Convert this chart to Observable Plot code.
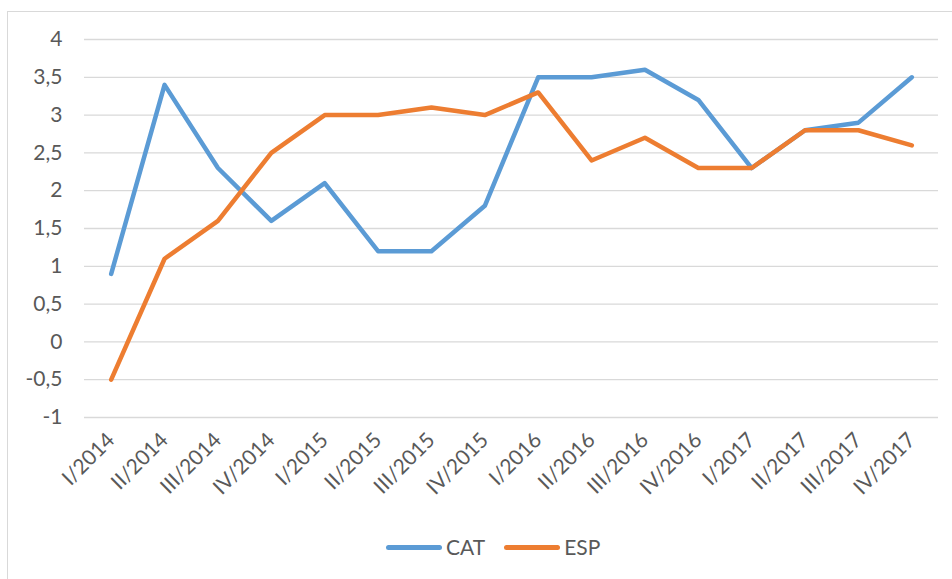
<!DOCTYPE html>
<html>
<head>
<meta charset="utf-8">
<script src="https://cdn.jsdelivr.net/npm/d3@7"></script>
<script src="https://cdn.jsdelivr.net/npm/@observablehq/plot@0.6"></script>
<style>
  html, body { margin: 0; padding: 0; background: #fff; overflow: hidden; width: 952px; height: 579px; }
  #wrap { position: relative; width: 952px; height: 579px; font-family: Lato, "Open Sans", sans-serif; }
  #frame { position: absolute; left: 7px; top: 11px; width: 1000px; height: 1000px; border: 1px solid #D9D9D9; box-sizing: border-box; }
  #chart { position: absolute; left: 0; top: 0; }
  #chart svg text { font-size: 21px !important; font-family: Lato, "Open Sans", sans-serif; fill: #595959; }
  #legend { position: absolute; left: 386px; top: 533px; display: flex; align-items: center; font-size: 21px; color: #595959; line-height: 28px; }
  .item { display: flex; align-items: center; }
  .sw { width: 56px; height: 5px; border-radius: 3px; margin-right: 4px; }
</style>
</head>
<body>
<div id="wrap">
  <div id="frame"></div>
  <div id="chart"></div>
  <div id="legend"></div>
</div>
<script>
const quarters = ["I/2014","II/2014","III/2014","IV/2014","I/2015","II/2015","III/2015","IV/2015",
                  "I/2016","II/2016","III/2016","IV/2016","I/2017","II/2017","III/2017","IV/2017"];
const cat = [0.9, 3.4, 2.3, 1.6, 2.1, 1.2, 1.2, 1.8, 3.5, 3.5, 3.6, 3.2, 2.3, 2.8, 2.9, 3.5];
const esp = [-0.5, 1.1, 1.6, 2.5, 3.0, 3.0, 3.1, 3.0, 3.3, 2.4, 2.7, 2.3, 2.3, 2.8, 2.8, 2.6];
const seriesNames = ["CAT", "ESP"];
const seriesColors = ["#5B9BD5", "#ED7D31"];
const yTicks = [-1, -0.5, 0, 0.5, 1, 1.5, 2, 2.5, 3, 3.5, 4];

const rows = [];
quarters.forEach((q, i) => rows.push({q, v: cat[i], s: "CAT"}));
quarters.forEach((q, i) => rows.push({q, v: esp[i], s: "ESP"}));

const fmt = d => String(d).replace(".", ",");

const plot = Plot.plot({
  width: 952,
  height: 520,
  marginLeft: 84,
  marginRight: 14,
  marginTop: 39,
  marginBottom: 103,
  style: { fontFamily: "Lato, 'Open Sans', sans-serif", fontSize: "21px", color: "#595959", background: "transparent" },
  x: { type: "point", domain: quarters, padding: 0.5, round: false },
  y: { domain: [-1, 4] },
  color: { domain: seriesNames, range: seriesColors },
  marks: [
    Plot.ruleY(yTicks, { stroke: "#D9D9D9", strokeWidth: 1.3 }),
    Plot.axisY({ ticks: yTicks, tickFormat: fmt, tickSize: 0, tickPadding: 22, label: null, fontSize: 21 }),
    Plot.axisX({ tickSize: 0, tickRotate: -45, tickPadding: 19, label: null, fontSize: 21 }),
    Plot.line(rows, { x: "q", y: "v", z: "s", stroke: "s", strokeWidth: 4.5, strokeLinejoin: "round", strokeLinecap: "round" })
  ]
});
document.getElementById("chart").appendChild(plot);

const legend = document.getElementById("legend");
seriesNames.forEach((n, i) => {
  const it = document.createElement("div");
  it.className = "item";
  it.style.marginRight = i === 0 ? "19px" : "0";
  const sw = document.createElement("div");
  sw.className = "sw";
  sw.style.background = seriesColors[i];
  const t = document.createElement("span");
  t.textContent = n;
  it.appendChild(sw); it.appendChild(t);
  legend.appendChild(it);
});
</script>
</body>
</html>
